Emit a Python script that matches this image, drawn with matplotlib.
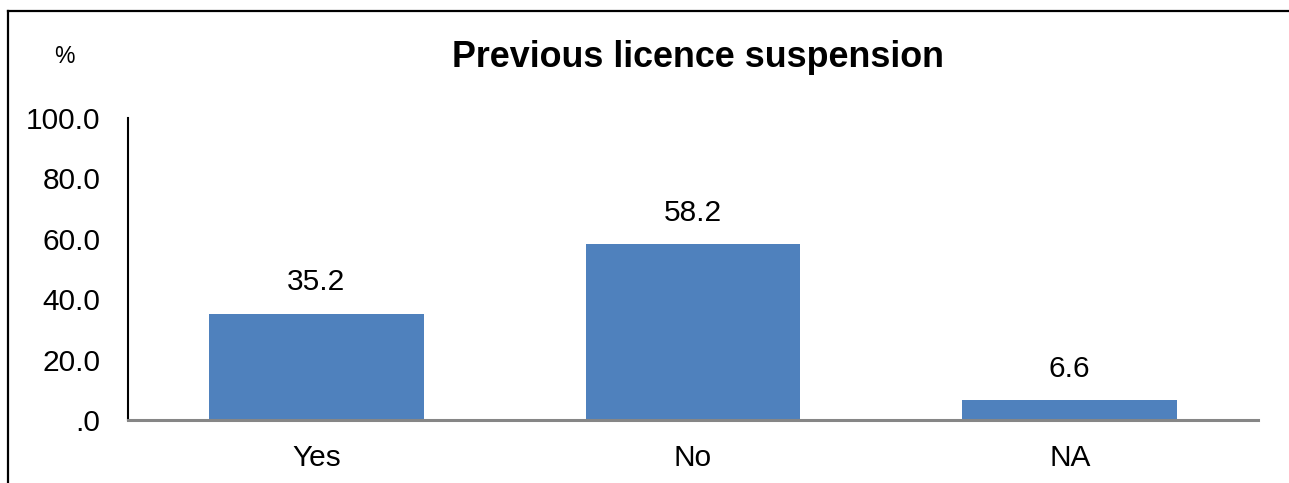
import matplotlib
matplotlib.use("Agg")
import matplotlib.pyplot as plt
from matplotlib.lines import Line2D

plt.rcParams["font.family"] = ["Liberation Sans", "DejaVu Sans"]

categories = ["Yes", "No", "NA"]
values = [35.2, 58.2, 6.6]
yticks = [0, 20, 40, 60, 80, 100]
ytick_labels = [".0", "20.0", "40.0", "60.0", "80.0", "100.0"]

BAR = "#4F81BD"
FS = 21.5

fig = plt.figure(figsize=(12.89, 4.83), dpi=100)
ax = fig.add_axes([0.0993, 0.1304, 0.8767, 0.6253])

x = range(len(categories))
ax.bar(x, values, width=0.57, color=BAR, zorder=2)
for i, v in zip(x, values):
    ax.annotate(f"{v:.1f}", (i, v), xytext=(0, 12.5), textcoords="offset points",
                ha="center", va="bottom", fontsize=FS)

ax.set_xlim(-0.5, len(categories) - 0.5)
ax.set_ylim(0, 100)
ax.set_yticks(yticks)
ax.set_yticklabels(ytick_labels, fontsize=FS)
ax.set_xticks(list(x))
ax.set_xticklabels(categories, fontsize=FS)
ax.tick_params(axis="y", length=0, pad=20)
ax.tick_params(axis="x", length=0, pad=17)

for s in ("top", "right"):
    ax.spines[s].set_visible(False)
ax.spines["left"].set_linewidth(1.5)
ax.spines["left"].set_color("black")
ax.spines["bottom"].set_linewidth(2.2)
ax.spines["bottom"].set_color("#868686")
ax.spines["bottom"].set_zorder(3)

fig.text(0.5415, 0.88, "Previous licence suspension", ha="center", va="center",
         fontsize=25.8, fontweight="bold")
fig.text(0.0497, 0.882, "%", ha="center", va="center", fontsize=16.5)

# outer frame (left and top edges only are visible)
ytop = 1 - 11 / 483
xl = 7.5 / 1289
fig.add_artist(Line2D([xl, xl], [0, ytop], color="black", lw=1.6, transform=fig.transFigure))
fig.add_artist(Line2D([xl, 1], [ytop, ytop], color="black", lw=1.6, transform=fig.transFigure))

fig.savefig("out.png", dpi=100)
